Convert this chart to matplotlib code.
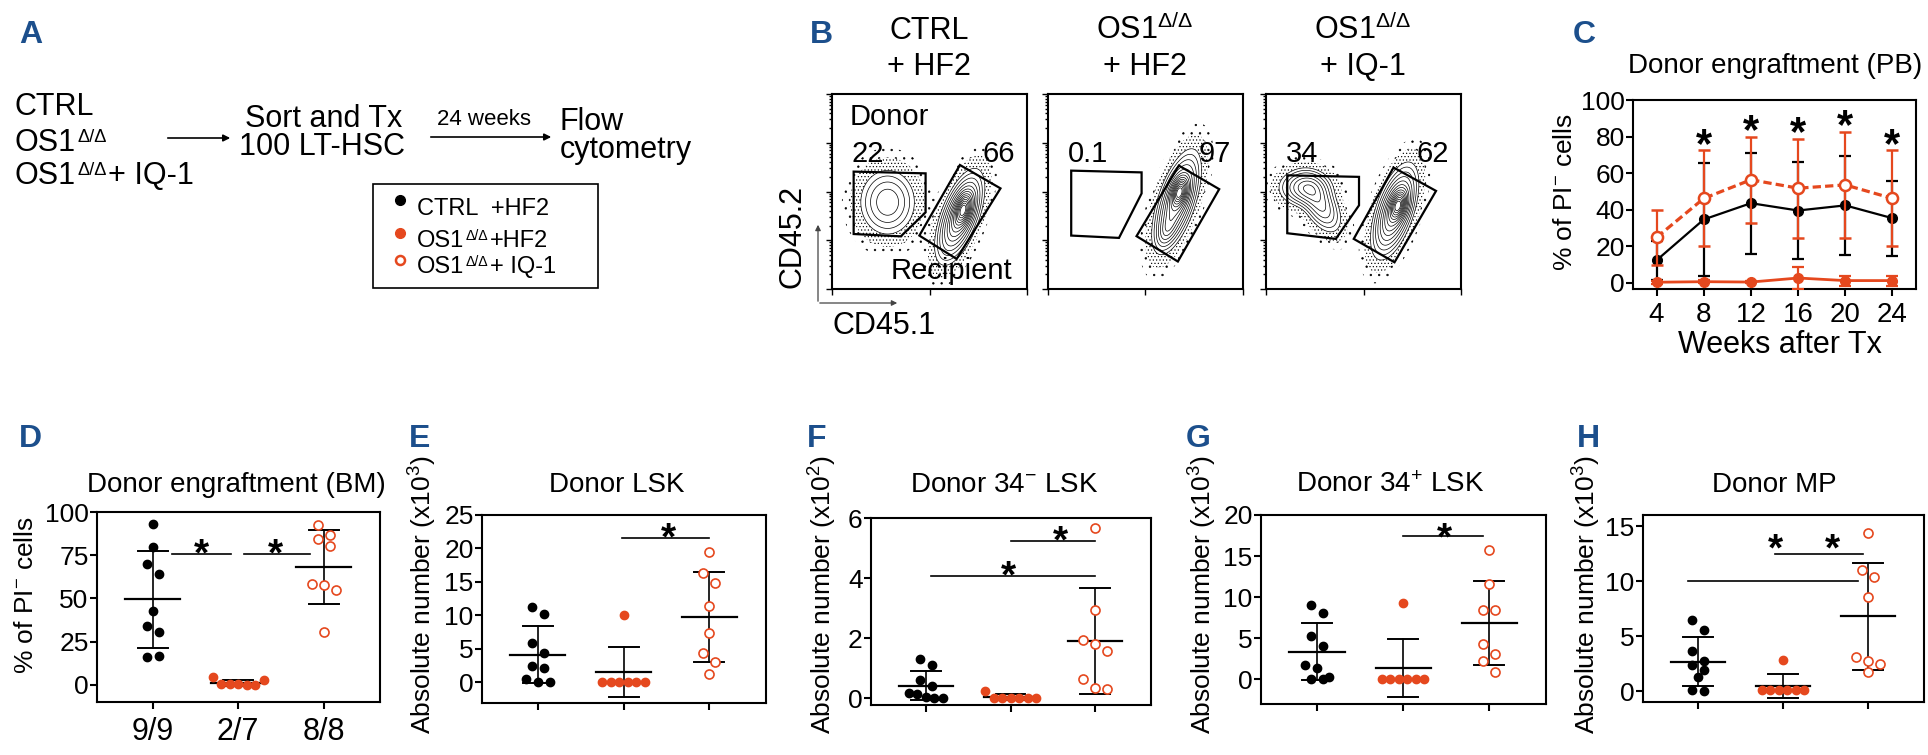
import numpy as np
import matplotlib
matplotlib.use('Agg')
import matplotlib.pyplot as plt
from matplotlib import font_manager
from matplotlib.patches import Polygon, Rectangle

#%% Data
# C: donor engraftment in PB (mean, SD)
weeks = [4, 8, 12, 16, 20, 24]
pb_ctrl_mean = [12.4, 34.7, 43.6, 39.6, 42.4, 35.4]
pb_ctrl_sd = [10.7, 30.9, 27.5, 26.5, 27.2, 20.5]
pb_hf2_mean = [0.4, 0.7, 0.5, 2.7, 1.3, 1.3]
pb_hf2_sd = [0.8, 0.8, 0.6, 6.0, 2.7, 2.7]
pb_iq1_mean = [24.9, 46.2, 56.4, 51.8, 53.6, 46.2]
pb_iq1_sd = [15.2, 26.2, 23.6, 27.0, 29.1, 26.2]
pb_star_weeks = [8, 12, 16, 20, 24]

# D: donor engraftment in BM (%)
bm_ctrl = [93.2, 79.5, 70.1, 64.1, 42.5, 33.8, 30.5, 15.8, 16.4]
bm_hf2 = [4.2, 0.3, 0.2, 0.2, 0.1, 0.1, 2.5]
bm_iq1 = [92.7, 86.9, 84.4, 80.5, 58.3, 57.9, 55.0, 30.5]
bm_labels = ['9/9', '2/7', '8/8']

# E: donor LSK (x10^3)
lsk_ctrl = [11.3, 10.2, 5.9, 4.3, 2.4, 2.2, 0.5, 0.1, 0.0]
lsk_hf2 = [10.0, 0.1, 0.1, 0.1, 0.1, 0.1, 0.1]
lsk_iq1 = [19.4, 16.4, 14.8, 11.4, 7.3, 4.3, 3.0, 1.2]

# F: donor CD34- LSK (x10^2)
lsk34n_ctrl = [1.3, 1.12, 0.62, 0.42, 0.17, 0.15, 0.03, 0.02, 0.0]
lsk34n_hf2 = [0.25, 0.02, 0.01, 0.01, 0.01, 0.01, 0.0]
lsk34n_iq1 = [5.66, 2.95, 1.93, 1.82, 1.58, 0.64, 0.36, 0.3]

# G: donor CD34+ LSK (x10^3)
lsk34p_ctrl = [9.0, 8.1, 5.3, 4.1, 1.7, 1.4, 0.3, 0.1, 0.0]
lsk34p_hf2 = [9.3, 0.05, 0.05, 0.05, 0.05, 0.05, 0.05]
lsk34p_iq1 = [15.8, 11.6, 8.4, 8.4, 4.3, 3.1, 2.2, 0.9]

# H: donor MP (x10^3)
mp_ctrl = [6.5, 5.6, 3.6, 2.7, 2.4, 1.9, 1.3, 0.1, 0.0]
mp_hf2 = [2.85, 0.05, 0.05, 0.05, 0.05, 0.05, 0.05]
mp_iq1 = [14.4, 11.0, 10.4, 8.6, 3.1, 2.7, 2.5, 1.7]

# B: gate percentages
flow_titles = ['CTRL\n+ HF2', 'OS1$^{\\Delta/\\Delta}$\n+ HF2', 'OS1$^{\\Delta/\\Delta}$\n+ IQ-1']
donor_pct = ['22', '0.1', '34']
recip_pct = ['66', '97', '62']

#%% Style
names = {f.name for f in font_manager.fontManager.ttflist}
SANS = 'Liberation Sans'
NARROW = 'Liberation Sans Narrow' if 'Liberation Sans Narrow' in names else 'Liberation Sans'
plt.rcParams['font.family'] = [SANS, 'DejaVu Sans']
plt.rcParams['mathtext.fontset'] = 'custom'
plt.rcParams['mathtext.rm'] = SANS
plt.rcParams['mathtext.it'] = SANS + ':italic'
plt.rcParams['mathtext.bf'] = SANS + ':bold'
plt.rcParams['hatch.linewidth'] = 0.45
plt.rcParams['hatch.color'] = 'k'

RED = '#E5481E'
BLUE = '#1c4f8c'
W, H = 1928, 755

fig = plt.figure(figsize=(W / 100, H / 100), dpi=100)


def rect(x0, y0, x1, y1):
    return [x0 / W, 1 - y1 / H, (x1 - x0) / W, (y1 - y0) / H]


ov = fig.add_axes([0, 0, 1, 1], zorder=10)
ov.set_xlim(0, W)
ov.set_ylim(H, 0)
ov.axis('off')
ov.patch.set_alpha(0)


def style_axes(ax, ysize=19, xsize=20, xpad=4):
    for s in ax.spines.values():
        s.set_linewidth(1.5)
    ax.tick_params(direction='out', length=5, width=1.5, top=False, right=False)
    ax.tick_params(axis='y', pad=1)
    ax.tick_params(axis='x', pad=xpad)
    for t in ax.get_yticklabels():
        t.set_fontfamily(NARROW)
        t.set_fontsize(ysize)
    for t in ax.get_xticklabels():
        t.set_fontfamily(NARROW)
        t.set_fontsize(xsize)


def star(ax, x, y, size=28):
    ax.annotate('*', (x, y), xytext=(0, -0.6 * size), textcoords='offset points',
                ha='center', va='baseline', fontsize=size, fontweight='bold')


def os1_text(x, y, rest, size):
    # "OS1" with a small raised delta/delta, then the rest on the same baseline
    t = ov.text(x, y, 'OS1', fontsize=size, va='baseline')
    s = ov.annotate('\u0394/\u0394', xy=(1, 0), xycoords=t, xytext=(1, 0.38 * size),
                    textcoords='offset points', fontsize=0.6 * size, va='bottom')
    if rest:
        ov.annotate(rest, xy=(1, 0), xycoords=(s, t), xytext=(1, 0),
                    textcoords='offset points', fontsize=size, va='bottom')


#%% Panel labels
for lab, x, y in [('A', 19, 43), ('B', 810, 43), ('C', 1573, 43), ('D', 19, 447),
                  ('E', 409, 447), ('F', 807, 447), ('G', 1186, 447), ('H', 1577, 447)]:
    ov.text(x, y, lab, color=BLUE, fontsize=23, fontweight='bold', va='baseline')

#%% Panel A: scheme
ov.text(15, 115, 'CTRL', fontsize=22, va='baseline')
os1_text(15, 151, '', 22)
os1_text(15, 184, '+ IQ-1', 22)
ov.annotate('', xy=(233, 138), xytext=(165, 138),
            arrowprops=dict(arrowstyle='-|>', lw=1.2, color='k', mutation_scale=10))
ov.text(324, 127, 'Sort and Tx', fontsize=22, va='baseline', ha='center')
ov.text(322, 155, '100 LT-HSC', fontsize=22, va='baseline', ha='center')
ov.text(484, 125, '24 weeks', fontsize=16, va='baseline', ha='center')
ov.annotate('', xy=(554, 137), xytext=(428, 137),
            arrowprops=dict(arrowstyle='-|>', lw=1.2, color='k', mutation_scale=10))
ov.text(560, 130, 'Flow', fontsize=22, va='baseline')
ov.text(560, 158, 'cytometry', fontsize=22, va='baseline')

ov.add_patch(Rectangle((373, 184), 225, 104, fill=False, lw=1.2, ec='k'))
ov.plot([400], [200], 'o', ms=7, color='k')
ov.plot([400], [233], 'o', ms=7, color=RED)
ov.plot([400], [260], 'o', ms=6.5, mfc='white', mec=RED, mew=1.8)
ov.text(417, 215, 'CTRL  +HF2', fontsize=17, va='baseline')
os1_text(417, 247, '+HF2', 17)
os1_text(417, 273, '+ IQ-1', 17)

#%% Panel B: flow plots
donor_gates = [
    [(0.111, 0.602), (0.480, 0.593), (0.480, 0.393), (0.353, 0.270), (0.111, 0.282)],
    [(0.119, 0.607), (0.480, 0.598), (0.480, 0.490), (0.364, 0.262), (0.119, 0.274)],
    [(0.109, 0.583), (0.477, 0.575), (0.477, 0.429), (0.358, 0.257), (0.109, 0.286)],
]
recip_gates = [
    [(0.656, 0.636), (0.864, 0.516), (0.639, 0.154), (0.448, 0.274)],
    [(0.671, 0.633), (0.878, 0.512), (0.666, 0.141), (0.454, 0.271)],
    [(0.654, 0.623), (0.872, 0.503), (0.659, 0.137), (0.450, 0.257)],
]
# population blobs: centre x, centre y, long sd, short sd, angle, weight (axes fraction)
populations = [
    [(0.285, 0.445, 0.095, 0.08, 90, 0.4), (0.655, 0.37, 0.12, 0.045, 70, 1.0),
     (0.675, 0.41, 0.05, 0.025, 75, 0.9)],
    [(0.66, 0.45, 0.13, 0.045, 72, 1.0), (0.675, 0.50, 0.045, 0.025, 75, 1.0),
     (0.61, 0.30, 0.05, 0.025, 70, 0.25)],
    [(0.20, 0.52, 0.07, 0.05, 0, 0.5), (0.28, 0.43, 0.085, 0.045, -60, 0.4),
     (0.66, 0.40, 0.12, 0.045, 72, 0.9), (0.68, 0.43, 0.045, 0.025, 75, 0.8)],
]
flow_x0 = [832, 1048, 1266]


def blob(U, V, cx, cy, sa, sb, ang, w):
    t = np.deg2rad(ang)
    du, dv = U - cx, V - cy
    a = du * np.cos(t) + dv * np.sin(t)
    b = -du * np.sin(t) + dv * np.cos(t)
    return w * np.exp(-0.5 * ((a / sa) ** 2 + (b / sb) ** 2))


grid = np.linspace(0, 1, 300)
U, V = np.meshgrid(grid, grid)
contour_levels = np.array([0.05, 0.08, 0.12, 0.17, 0.23, 0.3, 0.37, 0.45, 0.53, 0.61,
                           0.69, 0.77, 0.85, 0.92])
for k, x0 in enumerate(flow_x0):
    ax = fig.add_axes(rect(x0, 94, x0 + 195, 289))
    ax.set_xscale('log')
    ax.set_yscale('log')
    ax.set_xlim(1e1, 1e5)
    ax.set_ylim(1e1, 1e5)
    for s in ax.spines.values():
        s.set_linewidth(1.5)
    ax.tick_params(which='both', direction='out', width=1, labelleft=False, labelbottom=False)
    ax.tick_params(which='major', length=4)
    ax.tick_params(which='minor', length=2)
    Z = sum(blob(U, V, *p) for p in populations[k])
    zm = Z.max()
    X = 10 ** (1 + 4 * U)
    Y = 10 ** (1 + 4 * V)
    ax.contourf(X, Y, Z, levels=[zm * 0.003, zm * 0.012], colors='none', hatches=['..'])
    ax.contourf(X, Y, Z, levels=[zm * 0.012, zm * 0.05], colors='none', hatches=['.....'])
    ax.contour(X, Y, Z, levels=zm * contour_levels, colors='k', linewidths=0.5)
    ax.add_patch(Polygon(donor_gates[k], closed=True, fill=False, lw=1.6, ec='k',
                         transform=ax.transAxes))
    ax.add_patch(Polygon(recip_gates[k], closed=True, fill=False, lw=1.6, ec='k',
                         transform=ax.transAxes))
    ax.text(0.10, 0.65, donor_pct[k], transform=ax.transAxes, fontsize=21, va='baseline')
    ax.text(0.77, 0.65, recip_pct[k], transform=ax.transAxes, fontsize=21, va='baseline')
    ov.text(x0 + 97, 75, flow_titles[k], fontsize=22, ha='center', va='baseline',
            linespacing=1.25)
    if k == 0:
        ax.text(0.09, 0.84, 'Donor', transform=ax.transAxes, fontsize=21, va='baseline')
        ax.text(0.30, 0.05, 'Recipient', transform=ax.transAxes, fontsize=21, va='baseline')

ov.text(792, 236, 'CD45.2', rotation=90, fontsize=22, ha='center', va='center')
ov.text(884, 326, 'CD45.1', fontsize=22, ha='center', va='center')
ov.annotate('', xy=(818, 222), xytext=(818, 304),
            arrowprops=dict(arrowstyle='-|>', lw=0.9, color='#444444', mutation_scale=8))
ov.annotate('', xy=(900, 303), xytext=(817, 303),
            arrowprops=dict(arrowstyle='-|>', lw=0.9, color='#444444', mutation_scale=8))

#%% Panel C: PB engraftment time course
axc = fig.add_axes(rect(1633, 100, 1916, 289))
axc.errorbar(weeks, pb_ctrl_mean, yerr=pb_ctrl_sd, color='k', lw=1.6, marker='o', ms=7,
             capsize=4, capthick=1.6, elinewidth=1.6, zorder=2)
axc.errorbar(weeks, pb_iq1_mean, yerr=pb_iq1_sd, color=RED, lw=2.3, ls='--', dashes=(2.6, 1.3),
             marker='o', ms=8, mfc='white', mec=RED, mew=1.8, capsize=4, capthick=1.6,
             elinewidth=1.6, zorder=3)
axc.errorbar(weeks, pb_hf2_mean, yerr=pb_hf2_sd, color=RED, lw=2.0, marker='o', ms=7,
             capsize=4, capthick=1.6, elinewidth=1.6, zorder=4)
axc.set_xlim(2, 26)
axc.set_ylim(-3.3, 100)
axc.set_xticks(weeks)
axc.set_yticks([0, 20, 40, 60, 80, 100])
style_axes(axc, ysize=19, xsize=20, xpad=4)
for wk in pb_star_weeks:
    i = weeks.index(wk)
    top = max(pb_iq1_mean[i] + pb_iq1_sd[i], pb_ctrl_mean[i] + pb_ctrl_sd[i])
    star(axc, wk, top + 10, size=30)
ov.text(1775, 73, 'Donor engraftment (PB)', fontsize=20, ha='center', va='baseline')
ov.text(1565, 192, '% of PI$^{-}$ cells', fontsize=19, rotation=90, ha='center', va='center')
ov.text(1780, 353, 'Weeks after Tx', fontsize=22, ha='center', va='baseline')

#%% Panels D-H: dot plots with mean +/- SD
XLIM = (-0.65, 2.66)


def swarm_x(vals, center, px_y, px_x, tol=12):
    order = np.argsort(vals, kind='stable')[::-1]
    xs = np.zeros(len(vals))
    clusters = []
    for i in order:
        if clusters and (vals[clusters[-1][0]] - vals[i]) * px_y < tol:
            clusters[-1].append(i)
        else:
            clusters.append([i])
    for c in clusters:
        c = sorted(c)
        n = len(c)
        step = 12 if n <= 3 else 8.5
        for k, i in enumerate(c):
            xs[i] = center + (k - (n - 1) / 2) * step / px_x
    return xs


def dot_panel(pos, groups, ylim, yticks, title, title_x, ylabel, ylabel_x, lines, stars,
              xlabels=None):
    x0, y0, x1, y1 = pos
    ax = fig.add_axes(rect(x0, y0, x1, y1))
    ax.set_xlim(*XLIM)
    ax.set_ylim(*ylim)
    px_x = (x1 - x0) / (XLIM[1] - XLIM[0])
    px_y = (y1 - y0) / (ylim[1] - ylim[0])
    styles = [dict(mfc='k', mec='k', ms=6), dict(mfc=RED, mec=RED, ms=6),
              dict(mfc='white', mec=RED, ms=6.5, mew=1.2)]
    for i, vals in enumerate(groups):
        vals = np.asarray(vals, dtype=float)
        xs = swarm_x(vals, i, px_y, px_x)
        m = vals.mean()
        sd = vals.std(ddof=1)
        ax.plot([i - 0.32, i + 0.32], [m, m], color='k', lw=1.6, zorder=2)
        ax.plot([i, i], [m - sd, m + sd], color='k', lw=1.2, zorder=2)
        for yy in (m - sd, m + sd):
            ax.plot([i - 0.175, i + 0.175], [yy, yy], color='k', lw=1.4, zorder=2)
        ax.plot(xs, vals, 'o', ls='none', zorder=3, **styles[i])
    for xa, xb, yy in lines:
        ax.plot([xa, xb], [yy, yy], color='k', lw=1.2)
    for sx, sy in stars:
        star(ax, sx, sy, size=28)
    ax.set_xticks([0, 1, 2])
    ax.set_xticklabels(xlabels if xlabels else ['', '', ''])
    ax.set_yticks(yticks)
    style_axes(ax, ysize=19, xsize=22, xpad=6)
    ov.text(title_x, 492, title, fontsize=20, ha='center', va='baseline')
    ov.text(ylabel_x, 595, ylabel, fontsize=19, rotation=90, ha='center', va='center')
    return ax


dot_panel((97, 512, 380, 702), [bm_ctrl, bm_hf2, bm_iq1], (-10, 100), [0, 25, 50, 75, 100],
          'Donor engraftment (BM)', 236, '% of PI$^{-}$ cells', 26,
          [(0.23, 0.92, 75.7), (1.07, 1.84, 75.7)], [(0.575, 82.5), (1.44, 82.5)], bm_labels)
dot_panel((482, 515, 766, 703), [lsk_ctrl, lsk_hf2, lsk_iq1], (-3.1, 25), [0, 5, 10, 15, 20, 25],
          'Donor LSK', 617, 'Absolute number (x10$^{3}$)', 423,
          [(0.98, 2.0, 21.5)], [(1.52, 23.4)])
dot_panel((871, 518, 1151, 705), [lsk34n_ctrl, lsk34n_hf2, lsk34n_iq1], (-0.22, 6), [0, 2, 4, 6],
          'Donor 34$^{-}$ LSK', 1004, 'Absolute number (x10$^{2}$)', 823,
          [(1.0, 2.0, 5.25), (0.06, 2.0, 4.06)], [(1.59, 5.62), (0.98, 4.48)])
dot_panel((1261, 515, 1546, 704), [lsk34p_ctrl, lsk34p_hf2, lsk34p_iq1], (-3, 20), [0, 5, 10, 15, 20],
          'Donor 34$^{+}$ LSK', 1390, 'Absolute number (x10$^{3}$)', 1203,
          [(1.0, 1.93, 17.4)], [(1.48, 18.7)])
dot_panel((1643, 515, 1924, 702), [mp_ctrl, mp_hf2, mp_iq1], (-1, 16.03), [0, 5, 10, 15],
          'Donor MP', 1774, 'Absolute number (x10$^{3}$)', 1587,
          [(0.91, 1.94, 12.5), (-0.12, 1.88, 10.0)], [(0.91, 14.0), (1.58, 14.0)])

fig.savefig('out.png', dpi=100)
